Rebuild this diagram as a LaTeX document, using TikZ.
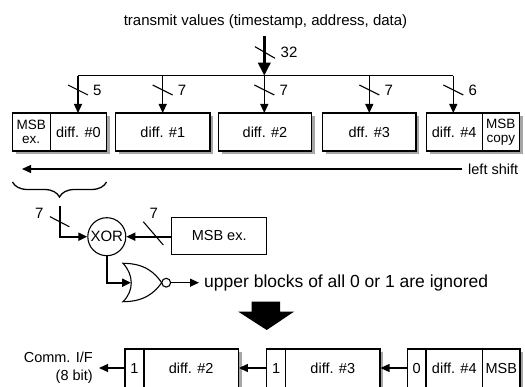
\documentclass[tikz,border=0pt]{standalone}
\usepackage{fontspec}
\setmainfont{Liberation Sans}
\usetikzlibrary{arrows.meta,decorations.pathreplacing,shadows}
\begin{document}
\begin{tikzpicture}[x=1pt,y=-1pt,
  bx/.style={draw, line width=1.1pt, fill=white, minimum height=38pt, inner sep=0pt,
    font=\fontsize{14.5}{14.5}\selectfont,
    drop shadow={shadow xshift=3.5pt, shadow yshift=-3.5pt, fill=black!35, opacity=1}},
  pbx/.style={draw, line width=1.1pt, fill=white, minimum height=37pt, inner sep=0pt,
    font=\fontsize{14.5}{14.5}\selectfont},
  small/.style={align=center, font=\fontsize{13.5}{14}\selectfont},
  lbl/.style={font=\fontsize{15}{15}\selectfont, inner sep=0pt, anchor=west},
  arr/.style={-{Triangle[length=9pt,width=8pt]}, line width=1.2pt},
  tarr/.style={-{Triangle[length=9pt,width=8pt]}, line width=2pt},
  slash/.style={line width=1.1pt}]
\clip (0,0) rectangle (525,387);
\fill[white] (0,0) rectangle (525,387);

% title and main input
\node[font=\fontsize{15}{15}\selectfont] (title) at (265.5,21.5) {transmit values (timestamp, address, data)};
\coordinate (top) at (264.3,36);
\coordinate (bus) at (264.3,75.7);
\draw[line width=3.5pt, -{Triangle[length=13pt,width=12pt]}] (top) -- (bus);
\draw[slash] (255,46.7) -- (275,58.3);
\node[lbl] (n32) at (280.5,52) {32};

% top row boxes
\node[bx, small, minimum width=37.7pt] (b0a) at (31.2,132) {MSB\\ex.};
\node[bx, minimum width=56.7pt] (b0b) at (78.4,132) {diff. \#0};
\node[bx, minimum width=94.3pt] (b1) at (162.8,132) {diff. \#1};
\node[bx, minimum width=93.4pt] (b2) at (265,132) {diff. \#2};
\node[bx, minimum width=93.3pt] (b3) at (369.3,132) {dff. \#3};
\node[bx, minimum width=56.3pt] (b4a) at (454.2,132) {diff. \#4};
\node[bx, small, minimum width=37pt] (b4b) at (500.8,132) {MSB\\copy};

% bus
\coordinate (busL) at (78,75.7);
\coordinate (busR) at (453.3,75.7);
\draw[line width=1.2pt] (busL) -- (busR);
\foreach \n/\x/\v in {b0b/78/5, b1/162.7/7, b2/264.3/7, b3/369.3/7, b4a/453.3/6}{
  \draw[arr] (\x,75.7) -- (\x,113);
  \draw[slash] (\x-10,85) -- (\x+10,95);
  \node[lbl] at (\x+15,90) {\v};
}

% left shift
\coordinate (lsR) at (462,169);
\coordinate (lsL) at (22,169);
\draw[arr] (lsR) -- (lsL);
\node[lbl, font=\fontsize{14.5}{14.5}\selectfont] (lsh) at (468,169) {left shift};

% brace
\draw[line width=1.3pt, decorate, decoration={brace, amplitude=15pt, mirror, aspect=0.5}] (12.5,182) -- (106.5,182);
\coordinate (br) at (59.5,206);

% XOR
\node[draw, circle, line width=1.1pt, minimum size=38pt, inner sep=0pt, fill=white,
  font=\fontsize{15}{15}\selectfont] (xor) at (106.8,236.7) {XOR};
\draw[tarr] (br) |- (xor.west);
\draw[slash] (50,216.7) -- (69.3,226.7);
\node[lbl] at (35,213.3) {7};

\node[pbx, minimum width=95pt, minimum height=37pt] (msb) at (219.2,235.7) {MSB ex.};
\draw[tarr] (msb.west |- xor.east) -- (xor.east);
\draw[slash] (143.3,221.7) -- (163.3,245);
\node[lbl] at (149.5,213.3) {7};

% NOR gate
\draw[line width=1.1pt, fill=white] (123,263.3) .. controls (134,275) and (134,291) .. (123,301.7)
  .. controls (145,301.7) and (155,292) .. (161.7,282.7)
  .. controls (155,273) and (145,263.3) .. (123,263.3) -- cycle;
\draw[line width=1.1pt, fill=white] (166.2,282.7) circle (4.4pt);
\coordinate (norin) at (131,282.7);
\coordinate (norout) at (170.6,282.7);
\draw[tarr] (xor.south) |- (norin);
\node[font=\fontsize{17.5}{17.5}\selectfont, inner sep=0pt, anchor=west] (res) at (204,282.7) {upper blocks of all 0 or 1 are ignored};
\draw[arr, shorten >=5pt] (norout) -- (res.west);

% big arrow
\fill (251.7,301.7) -- (280,301.7) -- (280,311.7) -- (294,311.7) -- (266.7,330) -- (238.3,311.7) -- (251.7,311.7) -- cycle;

% bottom row
\tikzset{cb/.style={bx, minimum height=39pt}}
\node[cb, minimum width=19pt] (c1a) at (134.5,368.5) {1};
\node[cb, minimum width=94.3pt] (c1b) at (191.2,368.5) {diff. \#2};
\node[cb, minimum width=19pt] (c2a) at (276.2,368.5) {1};
\node[cb, minimum width=94.3pt] (c2b) at (332.8,368.5) {diff. \#3};
\node[cb, minimum width=18.7pt] (c3a) at (416.7,368.5) {0};
\node[cb, minimum width=56.7pt] (c3b) at (454.3,368.5) {diff. \#4};
\node[cb, minimum width=37.3pt] (c3c) at (501.3,368.5) {MSB};

\draw[arr] (c3a.west |- 0,368) -- (c2b.east |- 0,368);
\draw[arr] (c2a.west |- 0,368) -- (c1b.east |- 0,368);
\coordinate (out) at (99,368);
\draw[arr] (c1a.west |- 0,368) -- (out);
\node[align=right, anchor=east, inner sep=0pt, font=\fontsize{14.5}{18}\selectfont] (comm) at (93,368) {Comm. I/F\\(8 bit)};
\end{tikzpicture}
\end{document}
